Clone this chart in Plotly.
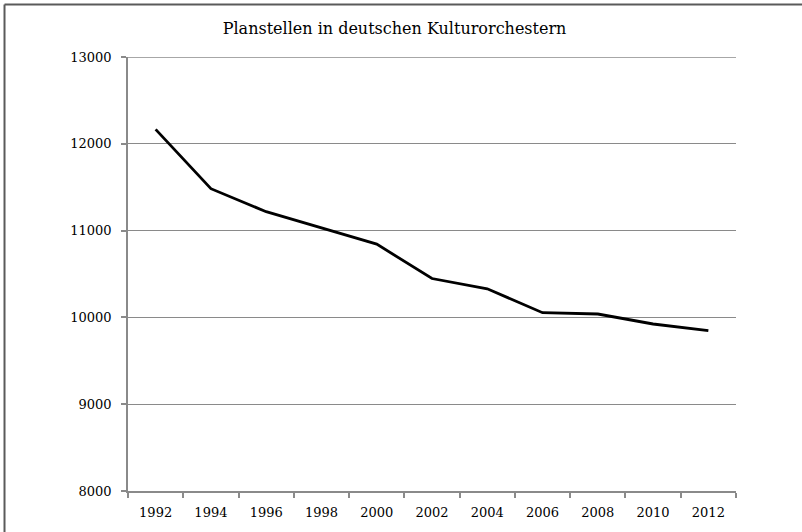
import plotly.graph_objects as go

years = ["1992", "1994", "1996", "1998", "2000", "2002", "2004", "2006", "2008", "2010", "2012"]
planstellen = [12166, 11483, 11218, 11028, 10844, 10448, 10330, 10054, 10039, 9924, 9847]
y_ticks = [8000, 9000, 10000, 11000, 12000, 13000]
title_text = "Planstellen in deutschen Kulturorchestern"

FONT = "Georgia, 'DejaVu Serif', serif"
AXIS_GREY = "#8a8a8a"

fig = go.Figure(
    go.Scatter(
        x=years,
        y=planstellen,
        mode="lines",
        line=dict(color="black", width=2.8),
        hoverinfo="skip",
    )
)

fig.update_layout(
    width=802,
    height=532,
    margin=dict(l=128, r=66, t=57, b=41),
    paper_bgcolor="white",
    plot_bgcolor="white",
    showlegend=False,
    font=dict(family=FONT, size=13, color="black"),
    title=dict(
        text=title_text,
        x=0.492,
        xanchor="center",
        y=0.947,
        yanchor="middle",
        font=dict(family=FONT, size=16, color="black"),
    ),
    shapes=[
        dict(type="line", xref="paper", yref="paper",
             x0=-0.2031, x1=-0.2031, y0=1.121, y1=-0.2,
             line=dict(color="#5a5a5a", width=2)),
        dict(type="line", xref="paper", yref="paper",
             x0=-0.2031, x1=1.2, y0=1.121, y1=1.121,
             line=dict(color="#5a5a5a", width=2)),
        dict(type="line", xref="paper", yref="y",
             x0=0, x1=1, y0=y_ticks[-1], y1=y_ticks[-1],
             line=dict(color=AXIS_GREY, width=1.5), layer="below"),
    ],
)

fig.update_xaxes(
    type="category",
    tickson="boundaries",
    ticks="outside",
    ticklen=5,
    tickwidth=1.5,
    tickcolor=AXIS_GREY,
    showline=True,
    linecolor=AXIS_GREY,
    linewidth=1.5,
    showgrid=False,
    zeroline=False,
    tickfont=dict(family=FONT, size=13, color="black"),
    ticklabelstandoff=9,
    range=[-0.5, len(years) - 0.5],
)

fig.update_yaxes(
    range=[8000, 13000],
    tickvals=y_ticks,
    ticktext=[str(v) for v in y_ticks],
    ticks="outside",
    ticklen=5,
    tickwidth=1.5,
    tickcolor=AXIS_GREY,
    showline=True,
    linecolor=AXIS_GREY,
    linewidth=1.5,
    showgrid=True,
    gridcolor=AXIS_GREY,
    gridwidth=1.4,
    zeroline=False,
    tickfont=dict(family=FONT, size=13, color="black"),
    ticklabelstandoff=7,
)

fig.write_html("out.html")
